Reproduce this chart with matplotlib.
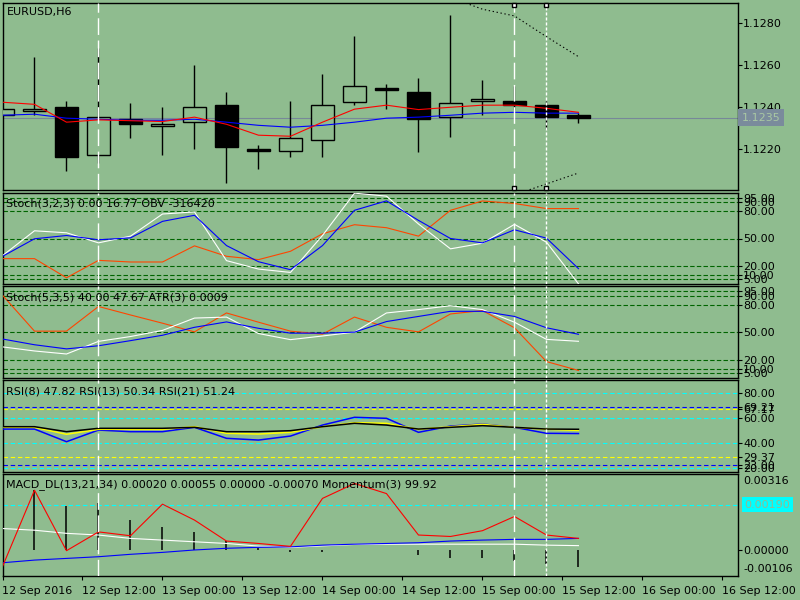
import numpy as np
import matplotlib
matplotlib.use('Agg')
import matplotlib.pyplot as plt

BG = '#8fbc8f'

# ---- data (bar index = one H6 candle) ----
bars = np.arange(19)

opens = [1.12362, 1.12381, 1.12400, 1.12172, 1.12343, 1.12310, 1.12329, 1.12410, 1.12200, 1.12191,
         1.12243, 1.12424, 1.12491, 1.12473, 1.12353, 1.12429, 1.12429, 1.12410, 1.12362]
highs = [1.12391, 1.12638, 1.12430, 1.12681, 1.12419, 1.12400, 1.12600, 1.12473, 1.12219, 1.12430,
         1.12559, 1.12740, 1.12510, 1.12540, 1.12840, 1.12530, 1.12500, 1.12429, 1.12372]
lows = [1.12362, 1.12362, 1.12098, 1.12133, 1.12253, 1.12172, 1.12200, 1.12041, 1.12108, 1.12162,
        1.12162, 1.12410, 1.12391, 1.12189, 1.12260, 1.12362, 1.12387, 1.12298, 1.12327]
closes = [1.12391, 1.12391, 1.12162, 1.12353, 1.12319, 1.12319, 1.12400, 1.12210, 1.12191, 1.12253,
          1.12410, 1.12500, 1.12481, 1.12343, 1.12419, 1.12438, 1.12410, 1.12355, 1.12350]

ma_red = [1.12424, 1.12414, 1.12329, 1.12340, 1.12336, 1.12332, 1.12353, 1.12319, 1.12267, 1.12262,
          1.12329, 1.12391, 1.12410, 1.12389, 1.12400, 1.12410, 1.12410, 1.12395, 1.12376]
ma_blue = [1.12362, 1.12367, 1.12348, 1.12343, 1.12338, 1.12338, 1.12343, 1.12329, 1.12314, 1.12305,
           1.12314, 1.12329, 1.12348, 1.12353, 1.12362, 1.12372, 1.12376, 1.12372, 1.12372]

env_up_bars = [14, 15, 16, 17, 18]
env_up = [1.12923, 1.12867, 1.12835, 1.12736, 1.12641]
env_dn_bars = [16, 17, 18]
env_dn = [1.11983, 1.12035, 1.12087]

last_price = 1.1235

stoch1_main = [31.1, 58.5, 56.3, 45.2, 52.6, 77.0, 79.3, 25.6, 16.3, 12.6,
               53.3, 100.0, 96.7, 66.0, 38.6, 44.8, 65.6, 45.9, 0.0]
stoch1_sig = [30.3, 49.7, 53.3, 48.6, 50.7, 68.9, 75.6, 42.2, 24.4, 15.6,
              42.2, 81.1, 91.5, 70.0, 50.0, 45.2, 59.6, 50.4, 16.77]
obv = [27.8, 27.8, 6.7, 25.9, 24.1, 24.1, 41.9, 30.4, 26.7, 35.9,
       55.2, 65.2, 61.9, 52.6, 81.1, 91.4, 88.6, 83.0, 83.0]
stoch_levels = [5, 10, 20, 50, 80, 90, 95]

stoch2_main = [33.9, 29.4, 26.1, 39.9, 45.2, 51.9, 65.4, 66.5, 48.5, 41.8,
               45.8, 50.0, 71.0, 74.7, 78.9, 74.7, 60.9, 42.1, 40.0]
stoch2_sig = [42.5, 36.2, 31.7, 35.1, 40.7, 46.6, 55.3, 61.2, 54.2, 48.9,
              48.9, 50.0, 61.6, 67.2, 72.8, 72.8, 67.2, 54.8, 47.67]
atr = [90.4, 51.1, 51.1, 78.1, 68.8, 59.8, 50.3, 71.0, 60.9, 51.1,
       47.8, 66.5, 55.3, 50.3, 69.9, 73.6, 54.8, 17.8, 8.1]

rsi8 = [51.4, 51.4, 41.3, 50.6, 49.3, 49.3, 52.8, 44.0, 42.6, 45.8,
        54.6, 60.8, 60.0, 48.8, 53.8, 55.4, 52.8, 48.0, 47.82]
rsi13 = [52.8, 52.8, 47.2, 51.2, 51.2, 51.2, 53.3, 48.0, 47.4, 48.8,
         53.3, 56.5, 56.0, 51.2, 53.3, 55.2, 52.8, 51.2, 50.34]
rsi21 = [53.3, 53.3, 49.3, 52.0, 52.0, 52.0, 52.8, 49.3, 49.3, 50.1,
         53.3, 56.0, 54.6, 51.4, 52.8, 54.1, 52.8, 51.4, 51.24]
rsi_cyan = [20, 40, 60, 80]
rsi_blue = [23.00, 69.21]
rsi_yellow = [29.37, 67.17]

macd_hist = [0.0, 0.00250, 0.00184, 0.00195, 0.00126, 0.00097, 0.00076, 0.00040, 0.00011, -0.00008,
             -0.00008, 0.0, 0.0, -0.00020, -0.00030, -0.00033, -0.00043, -0.00058, -0.00070]
momentum = [-0.00067, 0.00250, -0.00001, 0.00077, 0.00061, 0.00192, 0.00126, 0.00039, 0.00029, 0.00017,
            0.00216, 0.00278, 0.00236, 0.00064, 0.00058, 0.00082, 0.00141, 0.00064, 0.00050]
macd_white = [0.00091, 0.00084, 0.00071, 0.00064, 0.00050, 0.00043, 0.00036, 0.00029, 0.00018, 0.00013,
              0.00019, 0.00025, 0.00026, 0.00026, 0.00026, 0.00026, 0.00026, 0.00022, 0.00020]
macd_blue = [-0.00051, -0.00040, -0.00033, -0.00026, -0.00016, -0.00008, 0.00002, 0.00009, 0.00013, 0.00015,
             0.00022, 0.00026, 0.00029, 0.00032, 0.00039, 0.00043, 0.00046, 0.00046, 0.00050]
macd_level = 0.00190
macd_max, macd_min = 0.00316, -0.00106

vlines_long = [3, 16]
vline_short = 17

xtick_pos = np.arange(0, 23, 2.5)
xtick_labels = ['12 Sep 2016', '12 Sep 12:00', '13 Sep 00:00', '13 Sep 12:00', '14 Sep 00:00',
                '14 Sep 12:00', '15 Sep 00:00', '15 Sep 12:00', '16 Sep 00:00', '16 Sep 12:00']

plt.rcParams['font.family'] = 'DejaVu Sans'
plt.rcParams['font.size'] = 8

LW = 0.8  # MT4 draws 1px lines

fig = plt.figure(figsize=(8, 6), dpi=100, facecolor=BG)


def panel(top, bottom):
    ax = fig.add_axes([2.5 / 800, 1 - bottom / 600, 735 / 800, (bottom - top) / 600], facecolor=BG)
    ax.set_xlim(0, 22.97)
    for s in ax.spines.values():
        s.set_color('black')
        s.set_linewidth(1.0)
    ax.tick_params(axis='y', left=False, labelleft=False, right=True, labelright=True,
                   length=3, width=0.8, pad=1, labelsize=8, colors='black')
    ax.tick_params(axis='x', bottom=False, labelbottom=False)
    ax.set_xticks(xtick_pos)
    return ax


ax_main = panel(2.7, 190)
ax_s1 = panel(192.7, 284.3)
ax_s2 = panel(286, 378.3)
ax_rsi = panel(380.3, 471.7)
ax_macd = panel(474.3, 576)
axes = [ax_main, ax_s1, ax_s2, ax_rsi, ax_macd]

# ---- main price panel ----
ax_main.set_ylim(1.12006, 1.12898)
ax_main.axhline(last_price, color='#778899', lw=LW, zorder=1)
ax_main.vlines(bars, lows, highs, color='black', lw=1, zorder=2)
o = np.array(opens)
c = np.array(closes)
fills = [BG if cc >= oo else 'black' for oo, cc in zip(o, c)]
ax_main.bar(bars, np.abs(c - o), bottom=np.minimum(o, c), width=0.69, color=fills,
            edgecolor='black', linewidth=1, zorder=3)
ax_main.plot(bars, ma_blue, color='#0000ff', lw=LW, zorder=4)
ax_main.plot(bars, ma_red, color='#ff0000', lw=LW, zorder=4)
ax_main.plot(env_up_bars, env_up, color='black', lw=LW, ls=(0, (1.2, 2.4)), zorder=4)
ax_main.plot(env_dn_bars, env_dn, color='black', lw=LW, ls=(0, (1.2, 2.4)), zorder=4)
ax_main.set_yticks([1.1220, 1.1240, 1.1260, 1.1280])
ax_main.set_yticklabels(['1.1220', '1.1240', '1.1260', '1.1280'])
ax_main.annotate(f'{last_price:.4f}', xy=(1, last_price), xycoords=('axes fraction', 'data'),
                 xytext=(3, 0), textcoords='offset points', ha='left', va='center',
                 fontsize=8, color='#a9c8a3',
                 bbox=dict(boxstyle='square,pad=0.3', fc='#7a8b9c', ec='none'),
                 annotation_clip=False)

# ---- stochastic panels ----
for ax in (ax_s1, ax_s2):
    ax.set_ylim(-0.5, 100.5)
    for lv in stoch_levels:
        ax.axhline(lv, color='#006400', lw=LW, ls=(0, (4, 2)), zorder=1)
    ax.set_yticks(stoch_levels)
    ax.set_yticklabels([f'{lv:.2f}' for lv in stoch_levels])

ax_s1.plot(bars, obv, color='#ff4500', lw=LW, zorder=3)
ax_s1.plot(bars, stoch1_main, color='white', lw=LW, zorder=3)
ax_s1.plot(bars, stoch1_sig, color='#0000ff', lw=LW, zorder=4)

ax_s2.plot(bars, atr, color='#ff4500', lw=LW, zorder=3)
ax_s2.plot(bars, stoch2_main, color='white', lw=LW, zorder=3)
ax_s2.plot(bars, stoch2_sig, color='#0000ff', lw=LW, zorder=4)

# ---- RSI panel ----
ax_rsi.set_ylim(17.3, 90.4)
for lv in rsi_cyan:
    ax_rsi.axhline(lv, color='#00ffff', lw=LW, ls=(0, (4, 2.5)), zorder=1)
for lv in rsi_blue:
    ax_rsi.axhline(lv, color='#0000ff', lw=LW, ls=(0, (4, 2.5)), zorder=1)
for lv in rsi_yellow:
    ax_rsi.axhline(lv, color='#ffff00', lw=LW, ls=(0, (4, 2.5)), zorder=1)
ax_rsi.plot(bars, rsi8, color='#0000ff', lw=1.1, zorder=3)
ax_rsi.plot(bars, rsi13, color='#ffff00', lw=1.1, zorder=3)
ax_rsi.plot(bars, rsi21, color='black', lw=1.1, zorder=3)
rsi_ticks = sorted(rsi_cyan + rsi_blue + rsi_yellow)
ax_rsi.set_yticks(rsi_ticks)
ax_rsi.set_yticklabels([f'{lv:.2f}' for lv in rsi_ticks])

# ---- MACD / momentum panel ----
ax_macd.set_ylim(macd_min, macd_max)
ax_macd.axhline(macd_level, color='#00ffff', lw=LW, ls=(0, (4, 2.5)), zorder=1)
ax_macd.vlines(bars, 0, macd_hist, color='black', lw=1.1, zorder=2)
ax_macd.plot(bars, macd_white, color='white', lw=LW, zorder=3)
ax_macd.plot(bars, macd_blue, color='#0000ff', lw=LW, zorder=3)
ax_macd.plot(bars, momentum, color='#ff0000', lw=LW, zorder=4)
ax_macd.set_yticks([0])
ax_macd.set_yticklabels(['0.00000'])
ax_macd.annotate(f'{macd_max:.5f}', xy=(1, 1), xycoords='axes fraction', xytext=(4, -1.5),
                 textcoords='offset points', ha='left', va='top', fontsize=8, annotation_clip=False)
ax_macd.annotate(f'{macd_min:.5f}', xy=(1, 0), xycoords='axes fraction', xytext=(4, 1.5),
                 textcoords='offset points', ha='left', va='bottom', fontsize=8, annotation_clip=False)
ax_macd.annotate(f'{macd_level:.5f}', xy=(1, macd_level), xycoords=('axes fraction', 'data'),
                 xytext=(5, 0), textcoords='offset points', ha='left', va='center',
                 fontsize=8, color='#93b993',
                 bbox=dict(boxstyle='square,pad=0.25', fc='#00ffff', ec='none'),
                 annotation_clip=False)

# time axis on the bottom panel
ax_macd.tick_params(axis='x', bottom=True, labelbottom=True, length=3, width=0.8, pad=4,
                    labelsize=8, colors='black')
ax_macd.set_xticklabels(xtick_labels, ha='left')

# ---- vertical separators through all panels ----
for ax in axes:
    for xv in vlines_long:
        ax.axvline(xv, color='white', lw=1, ls=(0, (12, 4)), zorder=6)
    ax.axvline(vline_short, color='white', lw=1, ls=(0, (2.2, 1.4)), zorder=6)

y0, y1 = ax_main.get_ylim()
sel_x = [vlines_long[1], vline_short]
for yy in (y1 - 0.012 * (y1 - y0), y0 + 0.012 * (y1 - y0)):
    ax_main.plot(sel_x, [yy, yy], ls='none', marker='s', ms=3.5, mfc='white', mec='black',
                 mew=1, zorder=7, clip_on=False)

# ---- panel captions ----
captions = [
    (7, 12, 'EURUSD,H6'),
    (6, 203, 'Stoch(3,2,3) 0.00 16.77 OBV -316420'),
    (6, 297, 'Stoch(5,3,5) 40.00 47.67 ATR(3) 0.0009'),
    (6, 391.5, 'RSI(8) 47.82 RSI(13) 50.34 RSI(21) 51.24'),
    (6, 485, 'MACD_DL(13,21,34) 0.00020 0.00055 0.00000 -0.00070 Momentum(3) 99.92'),
]
for px, py, txt in captions:
    fig.text(px / 800, 1 - py / 600, txt, ha='left', va='center', fontsize=8, color='black', zorder=10)

fig.savefig('out.png', dpi=100, facecolor=BG)
